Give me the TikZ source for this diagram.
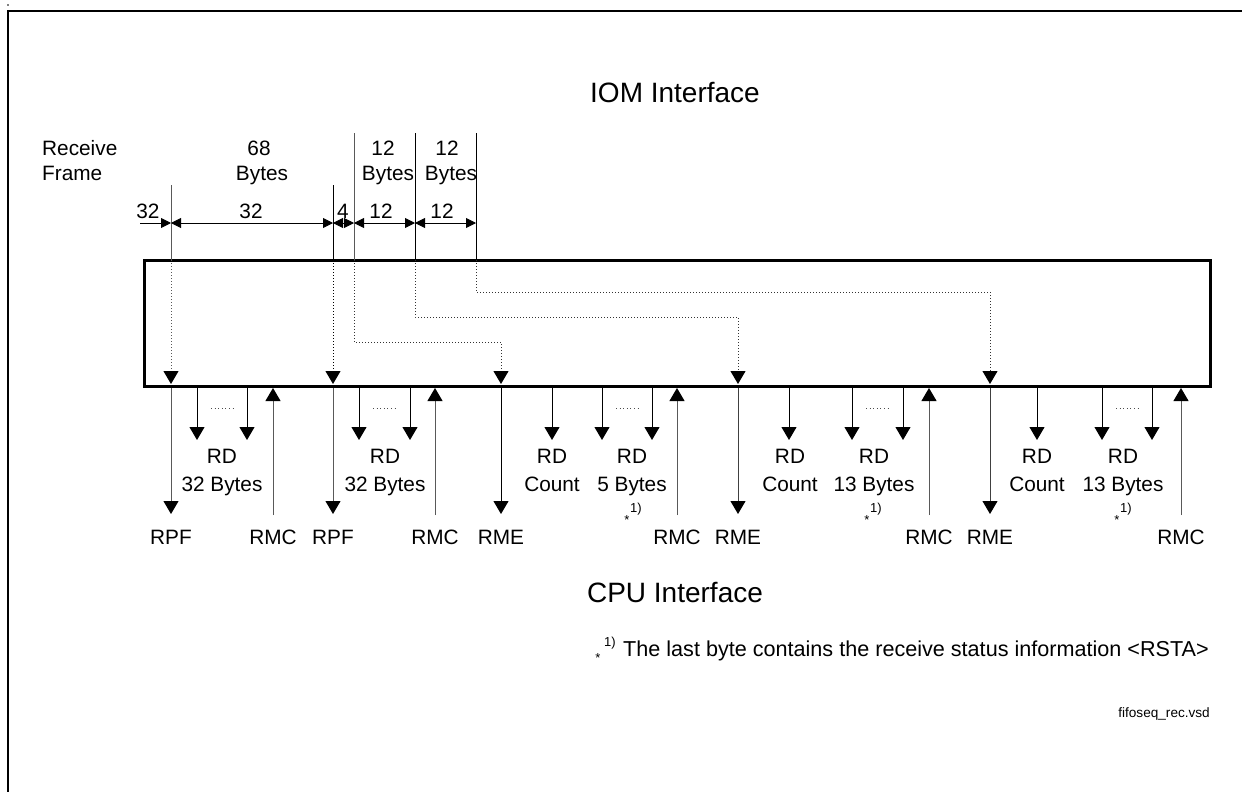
\documentclass[tikz,border=0pt]{standalone}
\usepackage{fontspec}
\setmainfont{Liberation Sans}
\usetikzlibrary{arrows.meta}
\begin{document}
\begin{tikzpicture}[x=1pt,y=-1pt,
  lbl/.style={anchor=base,inner sep=0pt,font=\fontsize{20.8pt}{24pt}\selectfont},
  ttl/.style={anchor=base,inner sep=0pt,font=\fontsize{28pt}{32pt}\selectfont},
  sml/.style={anchor=base,inner sep=0pt,font=\fontsize{13pt}{15pt}\selectfont},
  big/.style={-{Triangle[width=15pt,length=13pt,color=black]},line width=1pt},
  dim/.style={{Triangle[width=10pt,length=10pt,color=black]}-{Triangle[width=10pt,length=10pt,color=black]},line width=0.9pt},
  gline/.style={line width=1pt,black!65},
  bline/.style={line width=1pt,black},
  dots/.style={line width=1pt,dotted},
]
\useasboundingbox (0,0) rectangle (1242,792);
% outer frame
\draw[line width=2.5pt] (8,792) -- (8,11) -- (1242,11);
\fill (8,5) circle (0.8pt);
% titles
\node[ttl] (iom) at (675,102) {IOM Interface};
\node[ttl] (cpu) at (675,602) {CPU Interface};
% receive frame
\node[lbl,anchor=base west] (rcv) at (42,155) {Receive};
\node[lbl,anchor=base west] (frm) at (42,180) {Frame};
\node[lbl] (b68a) at (259,155) {68};
\node[lbl] (b68b) at (262,180) {Bytes};
\node[lbl] (b12a) at (383,155) {12};
\node[lbl] (b12b) at (388,180) {Bytes};
\node[lbl] (b12c) at (447,155) {12};
\node[lbl] (b12d) at (451,180) {Bytes};
\node[lbl] (d32a) at (148,218) {32};
\node[lbl] (d32b) at (251,218) {32};
\node[lbl] (d4) at (343,218) {4};
\node[lbl] (d12a) at (381,218) {12};
\node[lbl] (d12b) at (442,218) {12};
% main box
\draw[line width=3pt] (144,260) rectangle (1210,386);
% top coordinates
\foreach \n/\x/\t in {a/171/185,b/333/185,c/354/133,d/415/133,e/476/133}{
  \coordinate (t\n) at (\x,\t);
  \coordinate (m\n) at (\x,260);
}
\draw[gline] (ta) -- (ma);
\draw[bline] (tb) -- (mb);
\draw[gline] (tc) -- (mc);
\draw[bline] (td) -- (md);
\draw[bline] (te) -- (me);
% dimension arrows
\coordinate (l0) at (140,223);
\coordinate (la) at (171,223);
\coordinate (lb) at (333,223);
\coordinate (lc) at (354,223);
\coordinate (ld) at (415,223);
\coordinate (le) at (476,223);
\draw[line width=0.9pt,-{Triangle[width=10pt,length=10pt]}] (l0) -- (la);
\draw[dim] (la) -- (lb);
\draw[dim] (lb) -- (lc);
\draw[dim] (lc) -- (ld);
\draw[dim] (ld) -- (le);
% dotted routes inside box
\coordinate (pa) at (171,384);
\coordinate (pb) at (333,384);
\coordinate (pc) at (501,384);
\coordinate (pd) at (738,384);
\coordinate (pe) at (990,384);
\draw[dots,black!65,-{Triangle[width=15pt,length=13pt,color=black]}] (ma) -- (pa);
\draw[dots,-{Triangle[width=15pt,length=13pt]}] (mb) -- (pb);
\draw[dots,black!80,-{Triangle[width=15pt,length=13pt,color=black]}] (mc) |- (501,342) -- (pc);
\draw[dots,black!80,-{Triangle[width=15pt,length=13pt,color=black]}] (md) |- (738,317) -- (pd);
\draw[dots,black!80,-{Triangle[width=15pt,length=13pt,color=black]}] (me) |- (990,292) -- (pe);
% bottom labels
\foreach \n/\x/\s in {rpfa/171/RPF,rmca/273/RMC,rpfb/333/RPF,rmcb/435/RMC,rmea/501/RME,rmcc/677/RMC,rmeb/738/RME,rmcd/929/RMC,rmec/990/RME,rmce/1181/RMC}{
  \node[lbl] (\n) at (\x,544) {\s};
}
\foreach \n/\x/\s in {rda/222/32 Bytes,rdb/385/32 Bytes,rdc/552/Count,rdd/632/5 Bytes,rde/790/Count,rdf/874/13 Bytes,rdg/1037/Count,rdh/1123/13 Bytes}{
  \node[lbl] (\n1) at (\x,463) {RD};
  \node[lbl] (\n2) at (\x,491) {\s};
}
% footnote markers
\foreach \x in {627,867,1117}{
  \node[sml] at (\x,524) {*};
  \node[sml] at (\x+9,512) {1)};
}
% long down arrows (RPF, RME)
\foreach \x/\c in {171/black!65,333/black!65,501/black,738/black!75,990/black!75}{
  \draw[big,\c] (\x,388) -- (\x,514);
}
% short RD arrows
\foreach \x in {197,247,359,410,552,602,652,789,852,903,1037,1102,1152}{
  \draw[big] (\x,388) -- (\x,440);
}
% RMC up arrows
\foreach \x in {273,435,677,929,1181}{
  \draw[big,black!65] (\x,515) -- (\x,388);
}
% ellipsis dots
\foreach \x in {222,384,627,877,1127}{
  \draw[line width=0.8pt,dash pattern=on 1pt off 2.6pt,black!70] (\x-11,408) -- (\x+12,408);
}
% footnote
\node[sml] (fs) at (598,662) {*};
\node[sml] (f1) at (610,646) {1)};
\node[anchor=base west,inner sep=0pt,font=\fontsize{21.6pt}{24pt}\selectfont] (fn) at (623,656) {The last byte contains the receive status information <RSTA>};
\node[anchor=base east,inner sep=0pt,font=\fontsize{13.6pt}{15pt}\selectfont] (vsd) at (1210,717) {fifoseq\_rec.vsd};
\end{tikzpicture}
\end{document}
